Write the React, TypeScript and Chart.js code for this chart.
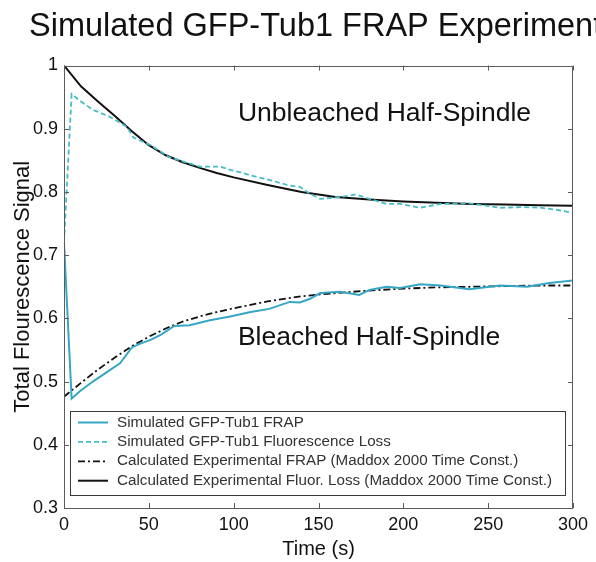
import React, { useEffect, useRef } from 'react';
import { Chart, registerables } from 'chart.js';

Chart.register(...registerables);

const FONT = '"Liberation Sans", Arial, Helvetica, sans-serif';

const titleText = 'Simulated GFP-Tub1 FRAP Experiment';
const xLabel = 'Time (s)';
const yLabel = 'Total Flourescence Signal';

const xTicks = [0, 50, 100, 150, 200, 250, 300];
const yTicks = [0.3, 0.4, 0.5, 0.6, 0.7, 0.8, 0.9, 1];

const seriesNames = [
  'Simulated GFP-Tub1 FRAP',
  'Simulated GFP-Tub1 Fluorescence Loss',
  'Calculated Experimental FRAP (Maddox 2000 Time Const.)',
  'Calculated Experimental Fluor. Loss (Maddox 2000 Time Const.)',
];

// Simulated GFP-Tub1 FRAP (solid cyan)
const simFrapT = [0, 4.5, 9, 17, 27, 33, 40, 45, 51, 57, 65, 74, 86, 98, 110, 121, 133, 139, 145, 151, 163, 174, 180, 190, 198, 210, 222, 239, 257, 273, 286, 300];
const simFrapV = [0.72, 0.473, 0.484, 0.5, 0.518, 0.529, 0.554, 0.56, 0.566, 0.574, 0.588, 0.589, 0.597, 0.603, 0.61, 0.615, 0.626, 0.625, 0.631, 0.64, 0.642, 0.637, 0.645, 0.65, 0.648, 0.654, 0.652, 0.646, 0.652, 0.65, 0.656, 0.66];

// Simulated GFP-Tub1 Fluorescence Loss (dashed cyan)
const simLossT = [0, 4.5, 9, 17, 27, 37, 41, 51, 62, 68, 80, 92, 98, 104, 110, 121, 133, 139, 145, 151, 163, 172, 180, 190, 198, 210, 222, 239, 257, 269, 281, 292, 300];
const simLossV = [0.72, 0.955, 0.945, 0.93, 0.919, 0.903, 0.886, 0.874, 0.855, 0.85, 0.84, 0.84, 0.835, 0.831, 0.826, 0.819, 0.81, 0.808, 0.797, 0.789, 0.792, 0.796, 0.789, 0.781, 0.781, 0.775, 0.781, 0.782, 0.775, 0.776, 0.775, 0.771, 0.767];

// Calculated experimental curves
const calcT = [0, 10, 20, 30, 40, 50, 60, 70, 80, 90, 100, 120, 140, 160, 180, 200, 220, 240, 260, 280, 300];
const calcFrapV = [0.476, 0.498, 0.519, 0.538, 0.556, 0.571, 0.584, 0.595, 0.603, 0.61, 0.616, 0.627, 0.635, 0.64, 0.644, 0.647, 0.649, 0.65, 0.651, 0.652, 0.652];
const calcLossV = [1.0, 0.967, 0.943, 0.92, 0.896, 0.874, 0.858, 0.847, 0.838, 0.83, 0.823, 0.811, 0.8, 0.792, 0.788, 0.785, 0.783, 0.781, 0.78, 0.779, 0.778];

const regionLabels = ['Unbleached Half-Spindle', 'Bleached Half-Spindle'];
const regionLabelT = [102.5, 102.5];
const regionLabelV = [0.923, 0.569];

const colors = ['#35a6c3', '#46bdc6', '#111111', '#111111'];
const dashes: number[][] = [[], [5, 3], [7, 3, 2, 3], []];
const widths = [2, 1.8, 1.8, 2];

const zip = (t: number[], v: number[]) => t.map((x, i) => ({ x, y: v[i] }));

const framePlugin = {
  id: 'frame',
  afterDatasetsDraw(chart: any) {
    const { ctx, chartArea: a, scales } = chart;
    const xs = scales.x;
    const ys = scales.y;
    ctx.save();
    // title (drawn without width compression, overflowing the right edge like the source)
    ctx.fillStyle = '#111';
    ctx.font = `32.5px ${FONT}`;
    ctx.textAlign = 'left';
    ctx.textBaseline = 'middle';
    ctx.fillText(titleText, 29, 27);

    // box
    ctx.strokeStyle = '#5c5c5c';
    ctx.lineWidth = 1;
    ctx.setLineDash([]);
    ctx.strokeRect(Math.round(a.left) + 0.5, Math.round(a.top) + 0.5, Math.round(a.right - a.left) - 1, Math.round(a.bottom - a.top) - 1);
    // inward ticks
    const tl = 5;
    ctx.beginPath();
    xTicks.forEach((t) => {
      const px = Math.round(xs.getPixelForValue(t)) + 0.5;
      ctx.moveTo(px, a.bottom);
      ctx.lineTo(px, a.bottom - tl);
      ctx.moveTo(px, a.top);
      ctx.lineTo(px, a.top + tl);
    });
    yTicks.forEach((v) => {
      const py = Math.round(ys.getPixelForValue(v)) + 0.5;
      ctx.moveTo(a.left, py);
      ctx.lineTo(a.left + tl, py);
      ctx.moveTo(a.right, py);
      ctx.lineTo(a.right - tl, py);
    });
    ctx.stroke();

    // region annotations
    ctx.fillStyle = '#111';
    ctx.font = `26.5px ${FONT}`;
    ctx.textAlign = 'left';
    ctx.textBaseline = 'middle';
    regionLabels.forEach((s, i) => {
      ctx.fillText(s, xs.getPixelForValue(regionLabelT[i]), ys.getPixelForValue(regionLabelV[i]));
    });

    // legend box
    const lx0 = a.left + 6;
    const lx1 = a.right - 8;
    const ly0 = a.bottom - 97;
    const ly1 = a.bottom - 13;
    ctx.fillStyle = '#ffffff';
    ctx.fillRect(lx0, ly0, lx1 - lx0, ly1 - ly0);
    ctx.strokeStyle = '#3a3a3a';
    ctx.lineWidth = 1;
    ctx.strokeRect(Math.round(lx0) + 0.5, Math.round(ly0) + 0.5, Math.round(lx1 - lx0), Math.round(ly1 - ly0));
    ctx.font = `15.2px ${FONT}`;
    ctx.textBaseline = 'middle';
    seriesNames.forEach((name, i) => {
      const yy = ly0 + 11.5 + i * 19.4;
      ctx.strokeStyle = colors[i];
      ctx.lineWidth = widths[i];
      ctx.setLineDash(dashes[i]);
      ctx.beginPath();
      ctx.moveTo(a.left + 14, yy);
      ctx.lineTo(a.left + 44, yy);
      ctx.stroke();
      ctx.setLineDash([]);
      ctx.fillStyle = '#333';
      ctx.fillText(name, a.left + 53, yy);
    });
    ctx.restore();
  },
};

export default function App() {
  const ref = useRef<HTMLCanvasElement | null>(null);
  useEffect(() => {
    if (!ref.current) return;
    const values = [zip(simFrapT, simFrapV), zip(simLossT, simLossV), zip(calcT, calcFrapV), zip(calcT, calcLossV)];
    const chart = new Chart(ref.current, {
      type: 'line',
      data: {
        datasets: seriesNames.map((label, i) => ({
          label,
          data: values[i],
          borderColor: colors[i],
          backgroundColor: colors[i],
          borderWidth: widths[i],
          borderDash: dashes[i],
          pointRadius: 0,
          tension: 0,
          fill: false,
        })),
      },
      options: {
        animation: false,
        responsive: false,
        devicePixelRatio: 1,
        layout: { padding: { left: 0, right: 23, top: 65.5, bottom: 0 } },
        plugins: {
          legend: { display: false },
          tooltip: { enabled: false },
          title: { display: false },
        },
        scales: {
          x: {
            type: 'linear',
            min: 0,
            max: 300,
            grid: { display: false, drawTicks: false },
            border: { display: false },
            afterBuildTicks: (s: any) => { s.ticks = xTicks.map((v) => ({ value: v })); },
            afterFit: (s: any) => { s.height = 54; },
            ticks: {
              color: '#111',
              padding: 6,
              font: { family: FONT, size: 18 },
              maxRotation: 0,
              callback: (v: any) => String(v),
            },
            title: {
              display: true,
              text: xLabel,
              color: '#111',
              font: { family: FONT, size: 20 },
              padding: { top: 0, bottom: 1 },
            },
          },
          y: {
            type: 'linear',
            min: 0.3,
            max: 1,
            grid: { display: false, drawTicks: false },
            border: { display: false },
            afterBuildTicks: (s: any) => { s.ticks = yTicks.map((v) => ({ value: v })); },
            afterFit: (s: any) => { s.width = 64; },
            ticks: {
              color: '#111',
              padding: 6,
              font: { family: FONT, size: 18 },
              callback: (v: any) => String(Number(Number(v).toFixed(1))),
            },
            title: {
              display: true,
              text: yLabel,
              color: '#111',
              font: { family: FONT, size: 22 },
              padding: { top: 10, bottom: 0 },
            },
          },
        },
      },
      plugins: [framePlugin],
    });
    return () => chart.destroy();
  }, []);
  return (
    <div style={{ position: 'fixed', left: 0, top: 0, width: 596, height: 562, background: '#fff' }}>
      <canvas ref={ref} width={596} height={562} style={{ width: 596, height: 562, display: 'block' }} />
    </div>
  );
}
